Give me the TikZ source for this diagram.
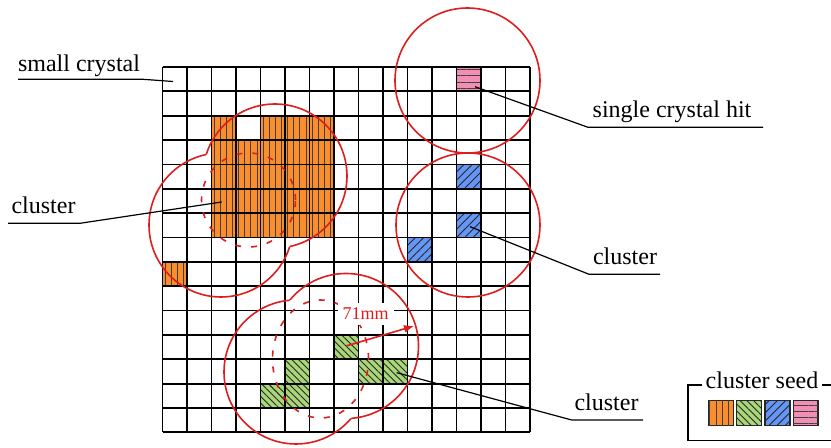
\documentclass[tikz,border=0pt]{standalone}
\usepackage{fontspec}
\setmainfont{Liberation Serif}
\usetikzlibrary{patterns.meta,arrows.meta}
\definecolor{seedorange}{RGB}{250,142,45}
\definecolor{seedgreen}{RGB}{168,214,120}
\definecolor{seedblue}{RGB}{102,150,245}
\definecolor{seedpink}{RGB}{240,142,180}
\definecolor{ringred}{RGB}{222,30,30}
\begin{document}
\begin{tikzpicture}[x=0.5pt, y=-0.5pt,
    lbl/.style={font=\fontsize{12}{14}\selectfont, anchor=base, inner sep=0pt},
    ulin/.style={draw=black, line width=0.6pt},
    ring/.style={draw=ringred, line width=0.8pt},
    dring/.style={ring, dash pattern=on 3pt off 5pt},
    cellgrid/.style={draw=black, line width=0.9pt},
    ocell/.style={fill=seedorange, postaction={pattern={Lines[angle=90,distance=3.06pt,line width=0.45pt]}, pattern color=black!75}},
    gcell/.style={fill=seedgreen, postaction={pattern={Lines[angle=-45,distance=2.4pt,line width=0.45pt]}, pattern color=black!85}},
    bcell/.style={fill=seedblue, postaction={pattern={Lines[angle=45,distance=2.9pt,line width=0.45pt]}, pattern color=black!85}},
    pcell/.style={fill=seedpink, postaction={pattern={Lines[angle=0,distance=3.05pt,line width=0.45pt]}, pattern color=black!75}},
    swatch/.style={draw=black!85, line width=0.6pt}]
    \useasboundingbox (0,0) rectangle (831,448);

    \begin{scope}[shift={(162.5,67)}, x=12.25pt, y=-12.18pt]
        \fill[ocell] (2,2) rectangle (3,3);
        \fill[ocell] (4,2) rectangle (7,3);
        \fill[ocell] (2,3) rectangle (7,7);
        \fill[ocell] (0,8) rectangle (1,9);
        \fill[pcell] (12,0) rectangle (13,1);
        \fill[bcell] (12,4) rectangle (13,5);
        \fill[bcell] (12,6) rectangle (13,7);
        \fill[bcell] (10,7) rectangle (11,8);
        \fill[gcell] (7,11) rectangle (8,12);
        \fill[gcell] (5,12) rectangle (6,13);
        \fill[gcell] (8,12) rectangle (10,13);
        \fill[gcell] (4,13) rectangle (6,14);
        \foreach \k in {0,...,15} {
            \draw[cellgrid] (\k,0) -- (\k,15);
            \draw[cellgrid] (0,\k) -- (15,\k);
        }
    \end{scope}

    \draw[ring] (467.5,80.5) circle[radius=36.25pt];
    \draw[ring] (468,225) circle[radius=36pt];

    \begin{scope}[even odd rule]
        \clip (0,0) rectangle (831,448) (221,225) circle[radius=36pt];
        \draw[ring] (275,176) circle[radius=36pt];
    \end{scope}
    \begin{scope}[even odd rule]
        \clip (0,0) rectangle (831,448) (275,176) circle[radius=36pt];
        \draw[ring] (221,225) circle[radius=36pt];
    \end{scope}
    \draw[dring] (248.5,200) circle[radius=23.5pt];

    \begin{scope}[even odd rule]
        \clip (0,0) rectangle (831,448) (346,346) circle[radius=36.25pt];
        \draw[ring] (296,372) circle[radius=36pt];
    \end{scope}
    \begin{scope}[even odd rule]
        \clip (0,0) rectangle (831,448) (296,372) circle[radius=36pt];
        \draw[ring] (346,346) circle[radius=36.25pt];
    \end{scope}
    \draw[dring] (320.5,359) circle[x radius=24pt, y radius=29.5pt];

    \node[lbl, text=ringred, font=\fontsize{9}{10}\selectfont, fill=white, inner sep=2.5pt] (radlbl) at (365.5,320) {71mm};
    \coordinate (gseed) at (346,346);
    \coordinate (gedge) at (414,326);
    \draw[ring, -{Latex[length=5pt,width=4pt]}] (gseed) to (gedge);

    \node[lbl] (smallcrystal) at (79,71.7) {small crystal};
    \coordinate (sc1) at (18,79.3);
    \coordinate (sc2) at (143,79.3);
    \coordinate (sct) at (173,81.5);
    \draw[ulin] (sc1) -- (sc2) -- (sct);

    \node[lbl] (singlehit) at (672,117.7) {single crystal hit};
    \coordinate (sh1) at (588,127.3);
    \coordinate (sh2) at (763,127.3);
    \coordinate (sht) at (475,86.7);
    \draw[ulin] (sht) -- (sh1) -- (sh2);

    \node[lbl] (clusterl) at (43.5,213.3) {cluster};
    \coordinate (cl1) at (8,223.3);
    \coordinate (cl2) at (80,223.3);
    \coordinate (clt) at (221.7,202);
    \draw[ulin] (cl1) -- (cl2) -- (clt);

    \node[lbl] (clusterr) at (625,265) {cluster};
    \coordinate (cr1) at (589,274.3);
    \coordinate (cr2) at (660,274.3);
    \coordinate (crt) at (470,226.7);
    \draw[ulin] (crt) -- (cr1) -- (cr2);

    \node[lbl] (clusterb) at (606.5,411) {cluster};
    \coordinate (cb1) at (571.7,420);
    \coordinate (cb2) at (643,420);
    \coordinate (cbt) at (396.7,372.7);
    \draw[ulin] (cbt) -- (cb1) -- (cb2);

    \coordinate (lgtr) at (831,385);
    \coordinate (lgtl) at (688,385);
    \coordinate (lgbl) at (688,440.7);
    \coordinate (lgbr) at (831,440.7);
    \draw[ulin] (lgtr) -- (lgtl) -- (lgbl) -- (lgbr);
    \node[lbl, fill=white, inner xsep=2pt] (seedkey) at (762,388.3) {cluster seed};
    \filldraw[ocell, swatch] (708.3,400.7) rectangle (733.3,425.7);
    \filldraw[gcell, swatch] (736.7,400.7) rectangle (761.7,425.7);
    \filldraw[bcell, swatch] (765,400.7) rectangle (790,425.7);
    \filldraw[pcell, swatch] (793.3,400.7) rectangle (818,425.7);
\end{tikzpicture}
\end{document}
